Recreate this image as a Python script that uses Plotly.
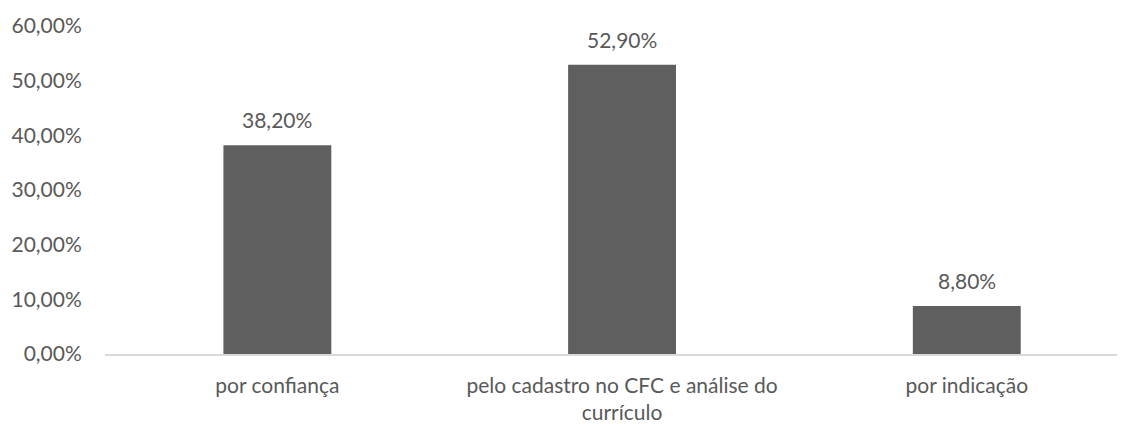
import plotly.graph_objects as go

categories = ["por confiança", "pelo cadastro no CFC e análise do<br>currículo", "por indicação"]
values = [0.382, 0.529, 0.088]
value_labels = ["38,20%", "52,90%", "8,80%"]
y_ticks = [0, 0.1, 0.2, 0.3, 0.4, 0.5, 0.6]

FONT = "Lato"
TXT = "#595959"
FS = 21

fig = go.Figure()
fig.add_trace(go.Bar(
    x=list(range(len(categories))), y=values,
    marker=dict(color="#5F5F5F", line=dict(width=0)),
    width=0.313, hoverinfo="skip",
))
for i, (v, t) in enumerate(zip(values, value_labels)):
    fig.add_annotation(x=i, y=v, text=t, showarrow=False, yanchor="bottom",
                       yshift=11, font=dict(family=FONT, size=FS, color=TXT))

# page body has an 8px default margin; figure sized to fit the 1125x424 window
fig.update_layout(
    width=1117, height=416,
    margin=dict(l=97, r=0, t=18, b=70),
    paper_bgcolor="white", plot_bgcolor="white",
    separators=", ",
    showlegend=False,
    font=dict(family=FONT, size=FS, color=TXT),
    xaxis=dict(
        range=[-0.5, 2.459], tickmode="array",
        tickvals=list(range(len(categories))), ticktext=categories,
        showgrid=False, zeroline=False, automargin=False,
        showline=True, linecolor="#D9D9D9", linewidth=1.5,
        ticks="", ticklabelstandoff=12,
        tickfont=dict(family=FONT, size=FS, color=TXT),
    ),
    yaxis=dict(
        range=[0, 0.6], tickvals=y_ticks, tickformat=".2%",
        showgrid=False, zeroline=False, showline=False, automargin=False,
        ticks="outside", ticklen=18, tickcolor="rgba(0,0,0,0)",
        tickfont=dict(family=FONT, size=FS, color=TXT),
    ),
)

fig.write_html("out.html")
